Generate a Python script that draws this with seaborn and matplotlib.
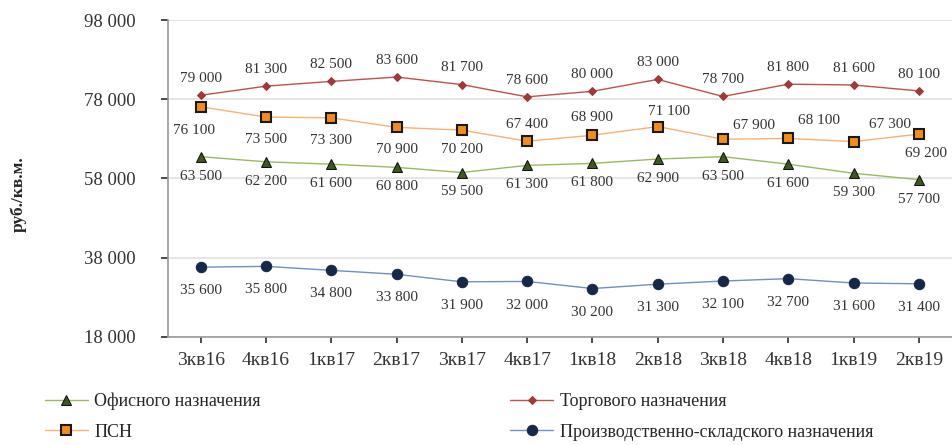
import matplotlib
matplotlib.use("Agg")
import matplotlib.pyplot as plt
import seaborn as sns
import pandas as pd
from matplotlib.ticker import FuncFormatter

quarters = ["3кв16", "4кв16", "1кв17", "2кв17", "3кв17", "4кв17",
            "1кв18", "2кв18", "3кв18", "4кв18", "1кв19", "2кв19"]
office = [63500, 62200, 61600, 60800, 59500, 61300, 61800, 62900, 63500, 61600, 59300, 57700]
retail = [79000, 81300, 82500, 83600, 81700, 78600, 80000, 83000, 78700, 81800, 81600, 80100]
psn = [76100, 73500, 73300, 70900, 70200, 67400, 68900, 71100, 67900, 68100, 67300, 69200]
warehouse = [35600, 35800, 34800, 33800, 31900, 32000, 30200, 31300, 32100, 32700, 31600, 31400]

name_office = "Офисного назначения"
name_retail = "Торгового назначения"
name_psn = "ПСН"
name_wh = "Производственно-складского назначения"

sns.set_theme(style="white")
plt.rcParams["font.family"] = ["Liberation Serif", "DejaVu Serif"]

fig = plt.figure(figsize=(9.52, 4.45), dpi=100)
ax = fig.add_axes([0.1765, 0.243, 0.823, 0.712])

pos = list(range(len(quarters)))

styles = [
    (name_office, office, dict(color="#9bbb59", marker="^", markersize=7,
                               markerfacecolor="#3d5a1e", markeredgecolor="#111111")),
    (name_psn, psn, dict(color="#f9b071", marker="s", markersize=7,
                         markerfacecolor="#f28c1e", markeredgecolor="#1a1a1a", markeredgewidth=1.5)),
    (name_retail, retail, dict(color="#c0504d", marker="D", markersize=4.5,
                               markerfacecolor="#a0393a", markeredgecolor="#a0393a")),
    (name_wh, warehouse, dict(color="#6f8fbf", marker="o", markersize=7.5,
                              markerfacecolor="#15284a", markeredgecolor="#15284a")),
]

for name, vals, st in styles:
    df = pd.DataFrame({"q": pos, "v": vals})
    sns.lineplot(data=df, x="q", y="v", ax=ax, label=name, linewidth=1.0, **st)

def fmt(v):
    return f"{v:,}".replace(",", " ")

# label offsets in points (dx, dy)
off_office = [(0, -14)] * 12
off_retail = [(0, 12)] * 12
off_wh = [(0, -17)] * 12
off_psn = [(-5, -17), (0, -16), (0, -16), (0, -16), (0, -14), (0, 12),
           (0, 13), (8, 11), (22, 10), (22, 13), (26, 12), (5, -14)]

for vals, offs in [(office, off_office), (retail, off_retail),
                   (warehouse, off_wh), (psn, off_psn)]:
    for x, v, (dx, dy) in zip(pos, vals, offs):
        ax.annotate(fmt(v), (x, v), xytext=(dx, dy), textcoords="offset points",
                    ha="center", va="center", fontsize=11, color="#333333")

ax.set_xlim(-0.5, len(quarters) - 0.5)
ax.set_ylim(18000, 98000)
ax.set_yticks(range(18000, 98001, 20000))
ax.yaxis.set_major_formatter(FuncFormatter(lambda v, p: fmt(int(v))))
ax.set_xticks(pos)
ax.set_xticklabels(quarters)
ax.set_xlabel("")
ax.set_ylabel("руб./кв.м.", fontsize=12.5, fontweight="bold")
ax.yaxis.set_label_coords(-0.18, 0.45)
ax.tick_params(axis="x", labelsize=14, colors="#333333", pad=7, length=4, direction="out", bottom=True)
ax.tick_params(axis="y", labelsize=13.5, colors="#333333", pad=18, length=5, direction="out", left=True)
ax.grid(axis="y", color="#e0e0e0", linewidth=1.2)
ax.grid(axis="x", visible=False)
for s in ["top", "right"]:
    ax.spines[s].set_visible(False)
for s in ["left", "bottom"]:
    ax.spines[s].set_color("#999999")
    ax.spines[s].set_linewidth(1.2)

ax.legend(loc="upper left", bbox_to_anchor=(-0.178, -0.125), ncol=2, frameon=False,
          fontsize=13, columnspacing=13.8, handlelength=2.4, handletextpad=0.35,
          labelspacing=0.75)

fig.savefig("out.png", dpi=100)
